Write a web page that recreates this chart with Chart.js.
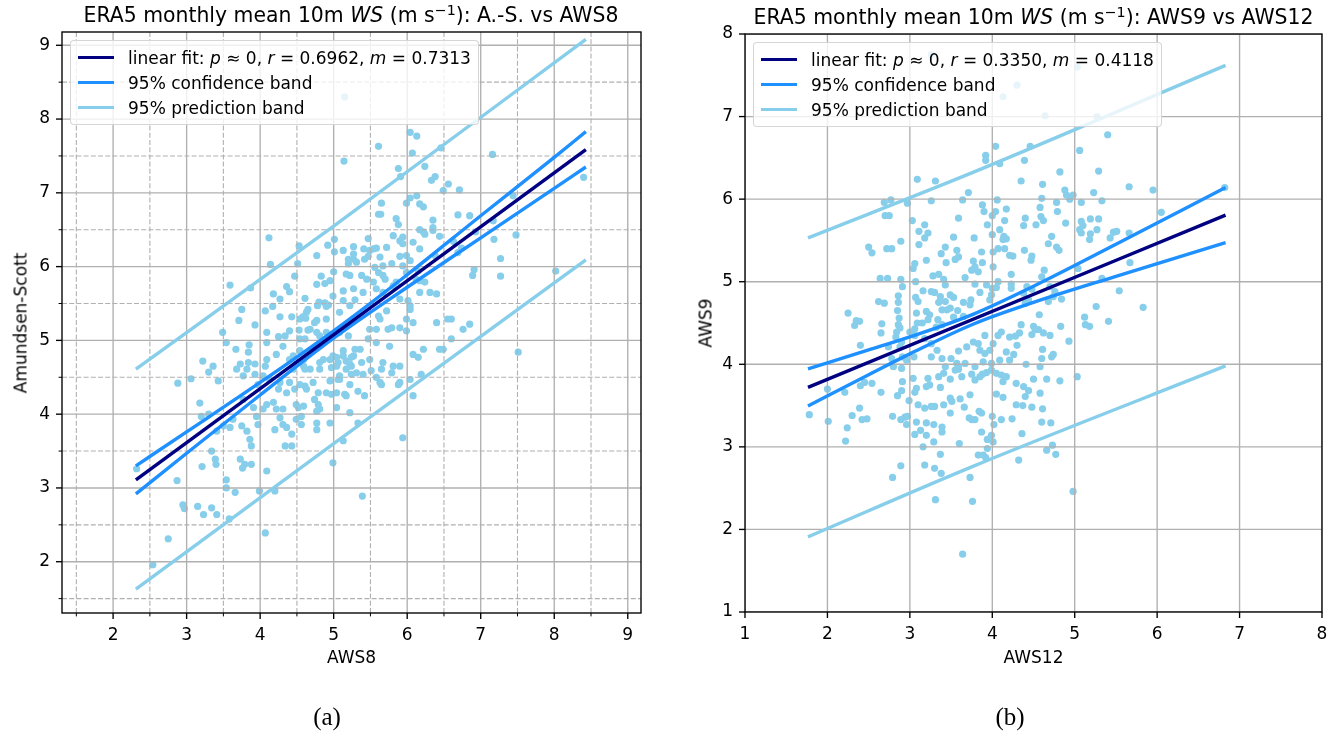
<!DOCTYPE html>
<html><head><meta charset="utf-8">
<script src="https://cdn.jsdelivr.net/npm/chart.js@4.4.1/dist/chart.umd.min.js"></script>
<style>
html,body{margin:0;padding:0;background:#fff;width:1343px;height:736px;overflow:hidden;font-family:"DejaVu Sans",sans-serif;color:#000;}
canvas{position:absolute;top:0;}
#cA{left:0;}
#cB{left:680px;}
.t{position:absolute;white-space:nowrap;line-height:1;transform:translate(-50%,-50%);z-index:6;}
.title{font-size:20.4px;}
.title sup{font-size:70%;vertical-align:0.5em;line-height:0;}
.xl,.yl{font-size:17px;}
.yl{transform:translate(-50%,-50%) rotate(-90deg);}
.cap{font-family:"Liberation Serif",serif;font-size:25px;}
.legend{position:absolute;z-index:5;background:rgba(255,255,255,0.8);border:1px solid rgba(204,204,204,0.8);border-radius:4px;padding:4px 7px;font-size:17px;}
.row{display:flex;align-items:center;height:25px;white-space:nowrap;}
.hl{display:inline-block;width:36px;height:3.4px;margin-right:14px;}
</style></head><body>
<canvas id="cA" width="670" height="700"></canvas>
<canvas id="cB" width="663" height="700"></canvas>

<div class="t title" style="left:351px;top:15px;">ERA5 monthly mean 10m <i>WS</i> (m s<sup>−1</sup>): A.-S. vs AWS8</div>
<div class="t title" style="left:1033.5px;top:17px;">ERA5 monthly mean 10m <i>WS</i> (m s<sup>−1</sup>): AWS9 vs AWS12</div>
<div class="t xl" style="left:351.5px;top:657px;">AWS8</div>
<div class="t xl" style="left:1033.5px;top:657px;">AWS12</div>
<div class="t yl" style="left:21px;top:322.5px;">Amundsen-Scott</div>
<div class="t yl" style="left:705.5px;top:323px;">AWS9</div>
<div class="t cap" style="left:327px;top:716px;">(a)</div>
<div class="t cap" style="left:1010px;top:716px;">(b)</div>

<div class="legend" style="left:70px;top:40px;">
 <div class="row"><span class="hl" style="background:#000080"></span><span>linear fit: <i>p</i> ≈ 0, <i>r</i> = 0.6962, <i>m</i> = 0.7313</span></div>
 <div class="row"><span class="hl" style="background:#1E90FF"></span><span>95% confidence band</span></div>
 <div class="row"><span class="hl" style="background:#87CEEB"></span><span>95% prediction band</span></div>
</div>
<div class="legend" style="left:753px;top:42px;">
 <div class="row"><span class="hl" style="background:#000080"></span><span>linear fit: <i>p</i> ≈ 0, <i>r</i> = 0.3350, <i>m</i> = 0.4118</span></div>
 <div class="row"><span class="hl" style="background:#1E90FF"></span><span>95% confidence band</span></div>
 <div class="row"><span class="hl" style="background:#87CEEB"></span><span>95% prediction band</span></div>
</div>

<script>
// ---------------- Panel (a): Amundsen-Scott vs AWS8 ----------------
const aws8 = [
5.15,5.14,4.12,4.53,4.92,5.01,5.13,5.27,4.77,5.01,
4.14,4.51,4.47,4.83,5.00,5.20,5.27,5.22,3.59,3.87,
4.36,4.40,4.77,4.88,4.95,4.18,4.27,4.61,4.80,4.93,
5.13,5.29,3.75,4.07,4.17,4.65,4.78,4.90,3.71,3.93,
4.27,4.43,4.58,4.62,3.49,3.54,3.67,3.85,3.84,4.09,
4.25,4.40,4.53,4.65,4.77,4.90,5.08,5.20,5.29,5.13,
3.22,3.36,3.73,3.93,4.09,4.22,4.45,4.54,4.72,4.86,
5.04,5.17,3.30,2.88,3.06,3.43,3.68,3.84,3.93,4.04,
4.40,4.45,4.49,4.61,4.81,4.95,5.06,5.27,5.17,5.31,
5.06,3.18,3.20,3.30,3.41,3.34,3.39,3.40,3.21,2.87,
2.95,2.97,3.15,3.23,3.34,3.41,3.58,3.54,3.54,3.66,
3.73,3.79,3.76,3.88,4.09,3.99,4.20,4.07,2.75,2.54,
2.32,3.50,3.59,3.63,3.75,3.82,3.86,3.88,3.95,3.97,
4.04,4.18,4.22,4.27,4.20,4.31,4.36,4.43,4.34,4.43,
4.47,4.52,4.59,4.49,4.56,4.63,4.72,4.74,4.81,4.77,
4.95,4.90,5.04,5.15,5.22,5.13,4.99,5.33,7.51,4.59,
4.97,5.22,5.24,5.08,5.22,5.38,5.40,5.49,5.51,5.65,
5.67,5.58,5.81,5.79,5.90,6.08,6.15,6.19,6.04,6.08,
5.94,5.39,4.79,4.61,4.56,4.77,4.97,5.04,5.17,5.33,
5.42,5.41,5.49,5.54,5.42,5.31,5.20,5.27,5.81,5.90,
5.94,6.08,6.17,6.24,6.35,5.63,5.79,5.94,6.04,6.15,
5.61,5.70,5.85,5.99,6.12,6.17,6.31,6.40,5.90,6.04,
5.72,5.63,5.58,5.74,5.90,5.99,6.22,6.40,6.55,6.44,
4.09,4.34,4.31,4.54,4.68,4.77,4.81,4.54,3.82,3.77,
3.97,4.07,4.13,4.27,4.40,4.25,4.36,4.54,4.79,3.77,
3.91,4.09,4.31,4.49,4.77,5.63,5.24,5.13,4.99,5.04,
5.08,4.95,4.81,4.68,4.59,5.90,5.88,5.65,6.01,6.08,
6.04,6.13,5.61,6.07,6.46,7.16,5.88,5.91,6.24,6.38,
6.33,6.56,6.49,6.71,6.13,6.04,5.99,6.17,6.22,5.65,
5.61,5.64,7.44,6.69,6.85,5.85,5.88,6.35,6.35,6.22,
6.17,6.44,7.17,7.18,7.48,7.27,6.91,6.89,7.27,8.02,
8.40,5.47,5.58,5.72,5.94,5.99,5.90,5.67,5.56,5.47,
5.17,5.38,5.67,5.54,5.45,5.27,5.13,4.99,4.88,4.63,
4.74,4.90,5.08,5.22,5.40,5.58,5.67,5.81,6.04,5.99,
5.79,5.61,5.49,5.47,5.58,5.76,5.36,5.24,4.61,6.17,
6.24,6.60,6.76,6.85,6.60,6.49,6.93,6.74,6.69,6.63,
6.38];
const amundsenScott = [
8.30,7.43,6.39,6.28,6.29,6.37,6.22,6.27,6.15,6.20,
6.03,6.04,5.87,5.87,5.93,6.04,6.10,5.88,5.75,5.71,
5.73,5.66,5.76,5.77,5.81,5.63,5.56,5.57,5.52,5.48,
5.54,5.55,5.42,5.40,5.46,5.42,5.47,5.46,5.27,5.21,
5.32,5.32,5.32,5.30,5.11,4.97,4.88,4.94,4.84,5.11,
5.05,5.13,5.14,5.14,5.11,5.11,5.11,5.06,4.88,4.79,
4.72,4.65,4.68,4.68,4.74,4.81,4.79,4.86,4.88,4.74,
4.77,4.72,4.57,4.42,4.48,4.45,4.61,4.70,4.54,4.52,
4.74,4.61,4.68,4.61,4.70,4.74,4.70,4.79,4.61,4.56,
4.47,4.15,3.97,4.00,3.77,3.50,3.39,3.32,3.29,3.10,
2.77,2.72,2.75,2.64,2.73,2.64,2.58,3.11,3.00,2.94,
3.39,3.32,3.27,3.32,3.23,2.96,2.96,2.39,2.31,1.96,
3.26,3.84,3.82,3.93,3.84,3.77,3.66,3.57,3.97,3.86,
4.07,4.16,4.07,3.95,3.79,3.86,3.82,3.73,3.57,3.57,
4.34,4.09,4.11,3.93,3.86,4.34,4.43,4.20,4.07,3.79,
3.88,4.29,4.29,4.27,4.02,3.64,3.34,4.31,4.84,4.65,
4.63,4.68,4.54,4.47,4.40,4.70,4.54,4.74,4.59,4.61,
4.70,4.50,4.65,4.56,4.43,4.81,4.77,4.54,4.47,4.25,
3.68,2.89,4.13,4.38,3.97,3.88,4.27,4.09,4.25,3.88,
4.25,6.24,6.22,6.24,6.10,6.06,6.10,6.17,6.42,6.35,
6.31,6.33,6.24,6.44,6.49,6.13,6.04,6.01,6.08,5.94,
5.92,5.83,5.79,5.92,5.83,5.65,5.65,5.63,5.56,5.42,
5.40,5.29,5.15,5.15,5.17,5.13,4.88,5.24,5.29,4.88,
4.97,5.06,4.92,5.29,5.15,5.27,5.06,5.02,4.61,4.52,
4.40,4.65,4.47,4.43,4.43,4.34,4.29,4.40,4.29,4.20,
4.09,4.13,4.07,4.13,4.04,4.43,4.65,4.86,4.79,4.65,
4.52,4.45,4.61,4.61,4.74,4.65,4.40,4.40,5.54,5.24,
7.82,7.77,7.63,7.54,7.61,7.52,7.33,7.22,7.36,7.22,
7.17,7.12,7.03,7.04,6.96,6.93,6.86,6.85,6.81,6.86,
6.71,6.71,6.96,6.70,6.69,6.65,6.57,6.63,6.53,6.47,
6.50,6.41,6.62,6.37,6.43,6.11,5.96,5.88,5.87,5.94,
7.21,6.38,6.25,6.26,6.40,6.15,6.14,6.01,5.99,6.14,
5.90,5.88,5.88,5.79,5.83,5.70,5.67,5.60,5.51,5.38,
5.24,5.29,5.38,5.47,5.65,5.70,5.65,5.74,5.47,5.29,
5.17,5.33,5.15,5.02,4.97,4.92,4.88,4.77,5.02,5.81,
5.79,5.29,5.15,5.22,5.02,4.88,6.47,6.25,6.19,6.34,
6.15];
// fit line and bands
const fitXA = [2.31, 8.43];
const fitYA = [3.11, 7.585];
const confXA = [2.31, 3, 4, 5, 6, 7, 8, 8.43];
const confUpA = [3.30, 3.76, 4.43, 5.13, 5.89, 6.69, 7.48, 7.83];
const confLoA = [2.92, 3.47, 4.26, 5.03, 5.72, 6.39, 7.06, 7.35];
const predXA = [2.31, 5.0, 8.43];
const predUpA = [4.61, 6.55, 9.08];
const predLoA = [1.63, 3.60, 6.09];
const limsA = [1.305, 9.18];
const majorTicksA = [2, 3, 4, 5, 6, 7, 8, 9];
const minorTicksA = [1.5, 2.5, 3.5, 4.5, 5.5, 6.5, 7.5, 8.5];

// ---------------- Panel (b): AWS9 vs AWS12 ----------------
const aws12 = [
3.26,4.30,4.13,5.03,4.04,3.92,3.92,4.09,3.09,3.31,
3.71,2.69,2.77,2.97,3.26,3.64,4.06,2.70,2.75,3.88,
3.90,4.04,4.00,4.17,4.15,3.59,3.03,3.18,3.11,3.22,
3.18,3.94,4.09,4.00,4.14,4.17,3.53,3.78,2.89,3.11,
2.50,2.54,2.72,2.78,3.43,3.38,3.57,3.55,3.59,3.87,
4.07,4.01,4.15,4.21,4.25,3.20,3.44,3.77,3.79,3.75,
3.83,3.88,4.01,3.06,3.04,2.64,2.73,2.89,3.28,3.35,
3.41,3.67,4.23,2.91,3.07,3.43,3.16,3.26,3.30,3.79,
3.93,4.00,4.07,4.05,3.85,4.23,2.86,2.86,2.62,2.69,
3.07,3.10,3.37,3.49,3.53,3.43,3.35,3.45,3.39,3.49,
3.65,3.74,3.73,3.99,3.97,2.85,2.87,2.86,2.88,2.25,
2.35,2.33,2.39,2.66,2.65,3.08,3.09,3.15,3.20,3.24,
3.22,3.34,3.32,3.39,3.58,3.53,3.65,3.06,3.00,3.06,
2.84,2.83,2.40,2.74,2.90,2.88,2.91,2.96,3.05,3.18,
3.26,3.33,3.26,3.39,3.50,3.59,3.69,3.77,3.83,3.91,
3.85,3.91,3.97,4.01,4.07,4.11,4.17,4.21,4.26,4.21,
3.59,3.79,3.89,3.99,4.09,3.43,3.57,3.67,4.13,4.23,
4.28,2.78,2.90,2.80,4.64,5.27,5.40,4.46,5.06,4.39,
4.82,5.29,4.35,4.61,5.66,5.95,6.82,4.88,4.90,4.94,
4.98,5.23,5.33,4.60,5.08,4.78,4.58,4.79,6.05,4.40,
4.38,4.59,4.62,4.53,4.89,5.08,5.10,5.06,5.19,5.29,
5.08,5.27,5.19,5.18,5.47,5.51,5.43,5.66,4.72,4.68,
4.78,4.81,4.39,4.48,4.47,5.67,4.63,4.60,5.04,5.33,
4.42,4.48,4.38,4.44,4.40,4.70,4.76,4.74,4.68,4.84,
5.54,4.57,5.26,5.83,5.12,5.13,5.18,5.41,4.35,4.33,
4.50,4.52,4.56,4.62,4.70,4.48,4.83,4.93,4.30,4.41,
4.61,4.60,4.72,4.74,4.58,1.78,2.01,2.00,2.21,2.24,
2.22,2.30,2.39,2.42,2.48,2.40,2.45,2.54,2.65,2.79,
2.85,2.90,2.91,2.99,3.06,3.08,2.89,2.94,2.96,2.97,
3.06,3.08,3.13,3.10,3.18,3.26,3.30,3.22,3.24,3.20,
3.37,3.41,3.20,3.20,3.29,3.39,3.39,3.29,3.16,3.37,
3.18,3.30,3.38,2.89,2.79,3.31,3.49,3.51,3.61,3.66,
3.49,3.60,3.73,3.84,3.87,3.72,3.75,3.79,3.87,4.00,
4.02,3.99,3.94,4.01,3.94,3.83,3.89,3.92,3.73,3.76,
3.64,4.05,4.05,3.99,3.93,3.85,3.88,3.79,3.75,3.63,
3.59,3.55,3.35,3.41,3.49,3.04,4.11,4.17,4.13,4.29,
4.50,4.66,4.82,5.03,4.38,4.44,4.40,4.58,4.13,4.29,
4.37,4.48,4.61,4.11,4.24,4.60,4.71,4.36,4.73,4.66,
4.77,4.32,4.98];
const aws9 = [
7.75,7.38,7.24,7.60,6.64,6.53,6.47,6.43,6.24,6.22,
6.08,5.96,5.99,5.95,5.98,5.99,5.99,5.80,5.80,5.93,
5.85,5.85,5.80,5.88,5.74,5.77,5.74,5.69,5.61,5.59,
5.53,5.69,5.63,5.57,5.55,5.52,5.54,5.53,5.49,5.45,
5.42,5.35,5.40,5.40,5.42,5.34,5.38,5.27,5.30,5.36,
5.40,5.36,5.40,5.32,5.31,5.26,5.23,5.25,5.18,5.14,
5.12,5.23,5.18,5.22,5.16,5.04,5.04,5.03,5.07,5.09,
5.03,5.05,5.09,4.94,5.00,4.96,4.89,4.88,4.87,4.97,
4.96,4.92,5.00,4.93,4.87,4.97,4.83,4.75,4.76,4.74,
4.81,4.76,4.82,4.84,4.81,4.76,4.75,4.66,4.66,4.68,
4.75,4.78,4.72,4.84,4.78,4.65,4.56,4.48,4.44,4.62,
4.53,4.47,4.52,4.49,4.38,4.62,4.50,4.50,4.64,4.60,
4.54,4.54,4.45,4.48,4.65,4.57,4.58,4.43,4.39,4.35,
4.39,4.33,4.23,4.21,4.27,4.21,4.09,4.05,4.09,4.31,
4.25,4.17,4.09,4.07,4.07,4.16,4.21,4.27,4.25,4.35,
4.17,4.13,4.17,4.25,4.35,4.39,4.15,4.05,4.12,4.33,
3.97,3.97,4.03,4.01,4.05,3.97,4.01,4.01,5.51,4.92,
4.34,4.07,3.95,3.97,7.01,7.00,6.78,6.64,6.59,6.47,
6.33,6.34,6.22,6.18,6.15,6.11,6.14,6.11,6.05,6.00,
6.05,6.08,5.98,6.01,5.96,5.96,5.90,5.85,5.84,5.77,
5.68,5.79,5.74,5.69,5.71,5.73,5.68,5.63,5.76,5.76,
5.59,5.63,5.58,5.51,5.60,5.61,5.53,5.59,5.55,5.46,
5.42,5.38,5.38,5.31,5.26,5.23,5.14,5.06,5.16,5.04,
4.94,4.91,4.86,4.78,4.74,4.94,4.88,4.82,4.76,4.79,
4.89,4.60,4.70,4.69,4.57,4.48,4.46,4.52,4.48,4.38,
4.46,4.42,4.42,4.38,4.35,4.36,4.46,4.28,4.23,4.00,
4.18,4.07,4.09,4.12,3.97,3.39,3.31,3.70,3.66,3.23,
3.07,3.38,3.47,3.33,3.34,3.74,3.78,3.77,3.66,3.37,
3.62,3.68,3.79,3.56,3.66,3.71,3.33,3.36,3.27,3.37,
3.15,3.30,3.20,3.51,3.47,3.49,3.49,3.83,3.75,3.73,
3.72,3.51,3.29,3.14,3.27,3.24,3.18,3.06,3.00,2.91,
2.78,2.74,2.68,2.77,2.63,2.36,3.59,3.55,3.58,3.48,
3.41,3.04,3.63,3.43,3.41,3.35,3.33,3.33,3.18,3.37,
3.27,3.14,3.09,3.06,2.98,2.90,2.90,2.87,2.63,2.34,
1.70,3.64,3.89,3.93,3.90,3.85,3.88,3.81,3.88,3.85,
3.94,3.93,3.85,3.89,3.82,3.83,3.87,3.85,3.79,3.77,
3.82,3.82,3.80,3.85,3.73,3.68,3.61,3.65,3.60,3.51,
3.50,3.48,3.46,3.33,3.34,3.30,3.29,3.16,3.02,2.96,
2.91,2.84,2.46];
const fitXB = [1.764, 6.83];
const fitYB = [3.72, 5.807];
const confXB = [1.764, 2.5, 3.0, 3.78, 4.5, 5.5, 6.83];
const confUpB = [3.945, 4.174, 4.332, 4.611, 4.945, 5.453, 6.140];
const confLoB = [3.495, 3.874, 4.126, 4.491, 4.749, 5.065, 5.474];
const predXB = [1.764, 3.78, 6.83];
const predUpB = [5.53, 6.33, 7.62];
const predLoB = [1.91, 2.77, 3.98];
const limsB = [1, 8];
const majorTicksB = [1, 2, 3, 4, 5, 6, 7, 8];

// ---------------- drawing ----------------
const C_PT = '#87CEEB', C_CONF = '#1E90FF', C_FIT = '#000080';
function pts(xs, ys){ return xs.map((x, i) => ({x: x, y: ys[i]})); }

function lineDs(xs, ys, color, order){
  return {type:'line', data: pts(xs, ys), borderColor: color, backgroundColor: color,
    borderWidth: 3.4, pointRadius: 0, pointHoverRadius: 0, fill: false, showLine: true,
    cubicInterpolationMode: 'monotone', order: order};
}

function mplPlugin(cfg){
  function vline(ctx, x, a){ ctx.beginPath(); ctx.moveTo(x, a.top); ctx.lineTo(x, a.bottom); ctx.stroke(); }
  function hline(ctx, y, a){ ctx.beginPath(); ctx.moveTo(a.left, y); ctx.lineTo(a.right, y); ctx.stroke(); }
  return {
    id: 'mpl' + cfg.name,
    afterDatasetDraw(chart, args){
      if (args.index !== 0) return;
      const ctx = chart.ctx, a = chart.chartArea, sx = chart.scales.x, sy = chart.scales.y;
      ctx.save();
      ctx.beginPath(); ctx.rect(a.left, a.top, a.right - a.left, a.bottom - a.top); ctx.clip();
      ctx.strokeStyle = '#b0b0b0';
      if (cfg.minor){
        ctx.lineWidth = 1.1; ctx.setLineDash([5, 2.2]);
        cfg.minor.forEach(v => vline(ctx, sx.getPixelForValue(v), a));
        cfg.minor.forEach(v => hline(ctx, sy.getPixelForValue(v), a));
      }
      ctx.setLineDash([]); ctx.lineWidth = 1.36;
      cfg.major.forEach(v => vline(ctx, sx.getPixelForValue(v), a));
      cfg.major.forEach(v => hline(ctx, sy.getPixelForValue(v), a));
      ctx.restore();
    },
    afterDraw(chart){
      const ctx = chart.ctx, a = chart.chartArea, sx = chart.scales.x, sy = chart.scales.y;
      ctx.save();
      ctx.strokeStyle = '#000';
      ctx.lineWidth = 1.36;
      cfg.major.forEach(v => { const p = sx.getPixelForValue(v); ctx.beginPath(); ctx.moveTo(p, a.bottom); ctx.lineTo(p, a.bottom + 6); ctx.stroke(); });
      cfg.major.forEach(v => { const p = sy.getPixelForValue(v); ctx.beginPath(); ctx.moveTo(a.left, p); ctx.lineTo(a.left - 6, p); ctx.stroke(); });
      if (cfg.minor){
        ctx.lineWidth = 1;
        cfg.minor.forEach(v => { const p = sx.getPixelForValue(v); ctx.beginPath(); ctx.moveTo(p, a.bottom); ctx.lineTo(p, a.bottom + 3.4); ctx.stroke(); });
        cfg.minor.forEach(v => { const p = sy.getPixelForValue(v); ctx.beginPath(); ctx.moveTo(a.left, p); ctx.lineTo(a.left - 3.4, p); ctx.stroke(); });
      }
      ctx.lineWidth = 1.36;
      ctx.strokeRect(a.left, a.top, a.right - a.left, a.bottom - a.top);
      ctx.restore();
    }
  };
}

function makeChart(id, xs, ys, fit, conf, pred, lims, major, minor, pad, yW, xH){
  const tickFont = {family: 'DejaVu Sans', size: 17};
  const axis = (isX) => ({
    type: 'linear', min: lims[0], max: lims[1],
    afterBuildTicks: s => { s.ticks = major.map(v => ({value: v})); },
    afterFit: s => { if (isX) s.height = xH; else s.width = yW; },
    grid: {display: false, drawTicks: false},
    border: {display: false},
    ticks: {color: '#000', font: tickFont, padding: 12, autoSkip: false, maxRotation: 0,
            callback: v => String(v)}
  });
  return new Chart(document.getElementById(id), {
    type: 'scatter',
    data: {datasets: [
      {type: 'scatter', data: pts(xs, ys), backgroundColor: C_PT, borderWidth: 0,
       pointRadius: 3.6, pointHoverRadius: 3.6, order: 10},
      lineDs(pred[0], pred[1], C_PT, 3),
      lineDs(pred[0], pred[2], C_PT, 3),
      lineDs(conf[0], conf[1], C_CONF, 2),
      lineDs(conf[0], conf[2], C_CONF, 2),
      lineDs(fit[0], fit[1], C_FIT, 1)
    ]},
    options: {
      responsive: false, animation: false, devicePixelRatio: 1,
      layout: {padding: pad},
      plugins: {legend: {display: false}, tooltip: {enabled: false}},
      events: [],
      scales: {x: axis(true), y: axis(false)}
    },
    plugins: [mplPlugin({name: id, major: major, minor: minor})]
  });
}

makeChart('cA', aws8, amundsenScott, [fitXA, fitYA], [confXA, confUpA, confLoA], [predXA, predUpA, predLoA],
  limsA, majorTicksA, minorTicksA, {left: 0, top: 32, right: 29, bottom: 0}, 62, 87);
makeChart('cB', aws12, aws9, [fitXB, fitYB], [confXB, confUpB, confLoB], [predXB, predUpB, predLoB],
  limsB, majorTicksB, null, {left: 0, top: 34, right: 21, bottom: 0}, 65, 88);
</script>
</body></html>
